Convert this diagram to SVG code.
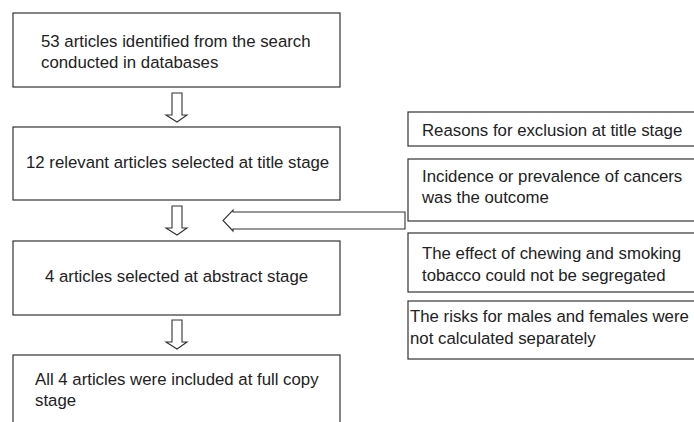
<svg xmlns="http://www.w3.org/2000/svg" width="694" height="422" viewBox="0 0 694 422">
<style>
.box{fill:#fff;stroke:#333;stroke-width:1.2}
.arr{fill:#fff;stroke:#333;stroke-width:1.1}
text{font-family:"Liberation Sans",Arial,sans-serif;font-size:16.8px;fill:#222}
</style>
<rect width="694" height="422" fill="#fff"/>
<g id="connectors">
<path class="arr" d="M172,93 H182 V115 H187 L177,122 L166,115 H172 Z"/>
<path class="arr" d="M172,206 H182 V228 H187 L177,235 L166,228 H172 Z"/>
<path class="arr" d="M172,320 H182 V342 H187 L177,349 L166,342 H172 Z"/>
<path class="arr" d="M405,212 H233 V210 L223,220.5 L233,231 V229 H405 Z"/>
</g>
<g id="n1"><rect class="box" x="13" y="13" width="327" height="74"/>
<text x="41" y="47">53 articles identified from the search</text>
<text x="41" y="68">conducted in databases</text></g>
<g id="n2"><rect class="box" x="13" y="127" width="327" height="73"/>
<text x="26" y="168">12 relevant articles selected at title stage</text></g>
<g id="n3"><rect class="box" x="13" y="241" width="327" height="74"/>
<text x="45" y="282">4 articles selected at abstract stage</text></g>
<g id="n4"><rect class="box" x="13" y="355" width="327" height="80"/>
<text x="35" y="385">All 4 articles were included at full copy</text>
<text x="35" y="406">stage</text></g>
<g id="r1"><rect class="box" x="408" y="112" width="300" height="34"/>
<text x="422" y="136">Reasons for exclusion at title stage</text></g>
<g id="r2"><rect class="box" x="408" y="159" width="300" height="62"/>
<text x="422" y="182">Incidence or prevalence of cancers</text>
<text x="422" y="203">was the outcome</text></g>
<g id="r3"><rect class="box" x="408" y="233" width="300" height="59"/>
<text x="422" y="259">The effect of chewing and smoking</text>
<text x="422" y="281">tobacco could not be segregated</text></g>
<g id="r4"><rect class="box" x="408" y="301" width="300" height="58"/>
<text x="410" y="322">The risks for males and females were</text>
<text x="410" y="344">not calculated separately</text></g>
</svg>
